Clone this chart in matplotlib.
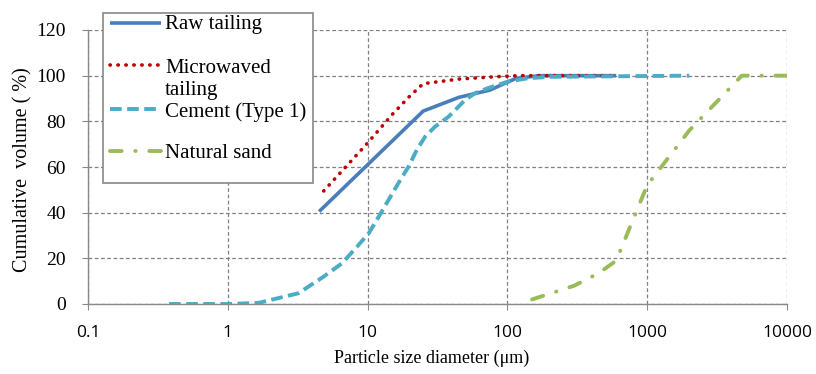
import matplotlib

matplotlib.use("Agg")
import matplotlib.pyplot as plt  # noqa: E402
from matplotlib.lines import Line2D  # noqa: E402
from matplotlib.patches import Rectangle  # noqa: E402
from matplotlib.ticker import FixedLocator, FixedFormatter, NullLocator  # noqa: E402

# particle size (um) vs cumulative volume (%)
raw_x = [4.5, 25, 45, 75, 115, 170, 600]
raw_y = [40.5, 84.5, 90.5, 93.7, 98.8, 100, 100]

micro_x = [4.85, 10, 15, 20, 25, 45, 80, 120, 600]
micro_y = [49.5, 70.5, 83, 91, 96.5, 98.5, 99.5, 100, 100]

cement_x = [0.38, 1.0, 1.66, 3.2, 4.85, 6.55, 8.4, 10.2, 12, 14.1, 16.6, 19.6, 22.5, 25.8,
            30.4, 37.9, 49.9, 59, 73, 101, 141, 207, 2000]
cement_y = [0, 0, 0.5, 4.7, 12, 17.8, 25.1, 31, 38.2, 45.5, 52.9, 60.1, 67.5, 73.3,
            77.7, 82, 89.4, 92.4, 94.6, 97.4, 98.9, 99.5, 100]

sand_x = [150, 300, 450, 600, 1000, 2000, 4750, 10000]
sand_y = [2, 8, 13.5, 19, 52, 76, 100, 100]

xticks = [0.1, 1, 10, 100, 1000, 10000]
xtick_labels = ["0.1", "1", "10", "100", "1000", "10000"]
yticks = [0, 20, 40, 60, 80, 100, 120]

serif = ["Liberation Serif", "DejaVu Serif"]
sans = ["Open Sans", "DejaVu Sans"]

styles = {
    "Raw tailing": dict(color="#4a7ebb", lw=2.6, linestyle="-", solid_capstyle="butt"),
    "Microwaved\ntailing": dict(color="#c00000", lw=2.6, linestyle=(0, (0.1, 2.1)), dash_capstyle="round"),
    "Cement (Type 1)": dict(color="#4bacc6", lw=2.8, linestyle=(0, (3.0, 1.4))),
    "Natural sand": dict(color="#9bbb59", lw=2.8, linestyle=(0, (3.0, 3.5, 0.1, 3.5)), dash_capstyle="round"),
}
series = [
    ("Raw tailing", raw_x, raw_y),
    ("Microwaved\ntailing", micro_x, micro_y),
    ("Cement (Type 1)", cement_x, cement_y),
    ("Natural sand", sand_x, sand_y),
]

W, H = 816, 374
fig = plt.figure(figsize=(W / 100, H / 100), dpi=100)
ax = fig.add_axes([88 / W, 1 - 304 / H, 699 / W, 274 / H])

for name, xs, ys in series:
    ax.plot(xs, ys, **styles[name])

ax.set_xscale("log")
ax.set_xlim(0.1, 10000)
ax.set_ylim(0, 120)
ax.xaxis.set_major_locator(FixedLocator(xticks))
ax.xaxis.set_major_formatter(FixedFormatter(xtick_labels))
ax.xaxis.set_minor_locator(NullLocator())
ax.set_yticks(yticks)

ax.grid(True, color="#808080", linestyle=(0, (3, 2)), lw=0.9)
for s in ["top", "right"]:
    ax.spines[s].set_visible(False)
for s in ["left", "bottom"]:
    ax.spines[s].set_color("#888888")
    ax.spines[s].set_linewidth(1.0)
ax.tick_params(axis="y", length=4, color="#888888", pad=12)
ax.tick_params(axis="x", length=4, color="#888888", pad=11, direction="out")

for t in ax.get_yticklabels():
    t.set_family(serif)
    t.set_fontsize(14)
for t in ax.get_xticklabels():
    t.set_family(sans)
    t.set_fontsize(12.5)

ax.set_xlabel("Particle size diameter (\u03bcm)", family=serif, fontsize=13)
ax.xaxis.set_label_coords(0.492, -0.166)
ax.set_ylabel("Cumulative  volume ( %)", family=serif, fontsize=14.5)
ax.yaxis.set_label_coords(-0.079, 0.49)

# legend box drawn by hand, to keep the two-line label aligned like the original
def fx(px):
    return px / W


def fy(py):
    return 1 - py / H


fig.patches.append(Rectangle((fx(103), fy(183)), fx(313) - fx(103), fy(13) - fy(183),
                             transform=fig.transFigure, facecolor="white",
                             edgecolor="#888888", lw=1.2, zorder=5))
handle_rows = [23, 65, 109, 151]
text_baselines = [[29], [73, 95], [117], [158]]
for (name, _, _), py, bases in zip(series, handle_rows, text_baselines):
    fig.lines.append(Line2D([fx(110), fx(161)], [fy(py), fy(py)], transform=fig.transFigure,
                            zorder=6, **styles[name]))
    for line, b in zip(name.split("\n"), bases):
        fig.text(fx(165), fy(b), line, family=serif, fontsize=15, va="baseline", ha="left", zorder=6)

fig.savefig("out.png", dpi=100)
plt.close(fig)
